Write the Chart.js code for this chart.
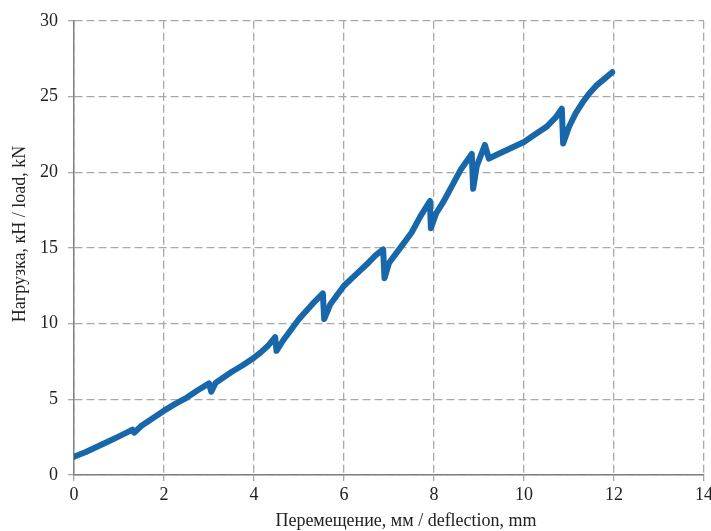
<!DOCTYPE html>
<html>
<head>
<meta charset="utf-8">
<script src="https://cdn.jsdelivr.net/npm/chart.js@4"></script>
<style>
  html, body { margin: 0; padding: 0; background: #fff; overflow: hidden; }
  #clip { width: 711px; height: 531px; overflow: hidden; }
  #wrap { width: 716px; height: 531px; }
</style>
</head>
<body>
<div id="clip"><div id="wrap"><canvas id="loadChart"></canvas></div></div>
<script>
// Data
var deflection = [0, 0.25, 0.5, 0.75, 1.0, 1.3, 1.34, 1.5, 1.75, 2.0, 2.25, 2.5, 2.75, 3.0, 3.05, 3.15, 3.5,
  3.75, 4.0, 4.15, 4.3, 4.47, 4.5, 4.65, 5.0, 5.15, 5.3, 5.53, 5.56, 5.7, 6.0, 6.25, 6.5, 6.7, 6.87, 6.9,
  7.0, 7.25, 7.5, 7.7, 7.91, 7.93, 8.05, 8.2, 8.4, 8.6, 8.84, 8.87, 8.95, 9.13, 9.22, 9.5, 9.75, 10.0,
  10.25, 10.5, 10.7, 10.84, 10.87, 11.0, 11.15, 11.3, 11.45, 11.6, 11.8, 11.96];
var load = [1.2, 1.5, 1.85, 2.2, 2.55, 3.0, 2.8, 3.25, 3.75, 4.25, 4.7, 5.1, 5.6, 6.05, 5.5, 6.1, 6.8,
  7.25, 7.75, 8.1, 8.5, 9.1, 8.2, 8.9, 10.3, 10.8, 11.3, 12.0, 10.3, 11.3, 12.5, 13.2, 13.9, 14.5, 14.9, 13.0,
  14.0, 15.0, 16.0, 17.1, 18.1, 16.3, 17.3, 18.0, 19.1, 20.2, 21.2, 18.9, 20.4, 21.8, 20.9, 21.3, 21.65, 22.0,
  22.5, 23.0, 23.6, 24.2, 21.9, 23.0, 23.9, 24.6, 25.2, 25.7, 26.2, 26.6];
var xTicks = [0, 2, 4, 6, 8, 10, 12, 14];
var yTicks = [0, 5, 10, 15, 20, 25, 30];
var xTitle = 'Перемещение, мм / deflection, mm';
var yTitle = 'Нагрузка, кН / load, kN';

var points = deflection.map(function (x, i) { return { x: x, y: load[i] }; });

var serif = '"Liberation Serif", "DejaVu Serif", serif';

// axis titles at their places in the scan
var axisTitles = {
  id: 'axisTitles',
  afterDraw: function (chart) {
    var ctx = chart.ctx;
    ctx.save();
    ctx.fillStyle = '#222';
    ctx.font = '18px ' + serif;
    ctx.textAlign = 'center';
    ctx.textBaseline = 'middle';
    ctx.fillText(xTitle, 406, 521);
    ctx.translate(20, 234);
    ctx.rotate(-Math.PI / 2);
    ctx.fillText(yTitle, 0, 0);
    ctx.restore();
  }
};

new Chart(document.getElementById('loadChart').getContext('2d'), {
  type: 'line',
  data: {
    datasets: [{
      data: points,
      borderColor: '#1767aa',
      borderWidth: 6,
      borderJoinStyle: 'round',
      borderCapStyle: 'round',
      pointRadius: 0,
      tension: 0,
      fill: false
    }]
  },
  options: {
    responsive: true,
    maintainAspectRatio: false,
    animation: false,
    layout: { padding: { top: 19, right: 0, left: 0, bottom: 0 } },
    plugins: { legend: { display: false }, tooltip: { enabled: false } },
    scales: {
      x: {
        type: 'linear',
        min: 0,
        max: 14,
        afterBuildTicks: function (s) { s.ticks = xTicks.map(function (v) { return { value: v }; }); },
        afterFit: function (s) { s.height = 56; },
        grid: { color: '#a8a8a8', lineWidth: 1.3, tickLength: 6, tickBorderDash: [] },
        border: { color: '#808080', width: 1.5, dash: [8, 4] },
        ticks: { color: '#222', font: { family: serif, size: 18 }, padding: 3, maxRotation: 0 }
      },
      y: {
        min: 0,
        max: 30,
        afterBuildTicks: function (s) { s.ticks = yTicks.map(function (v) { return { value: v }; }); },
        afterFit: function (s) { s.width = 74; },
        grid: { color: '#a8a8a8', lineWidth: 1.3, tickLength: 6, tickBorderDash: [] },
        border: { color: '#808080', width: 1.5, dash: [8, 4] },
        ticks: { color: '#222', font: { family: serif, size: 18 }, padding: 10 }
      }
    }
  },
  plugins: [axisTitles]
});
</script>
</body>
</html>
